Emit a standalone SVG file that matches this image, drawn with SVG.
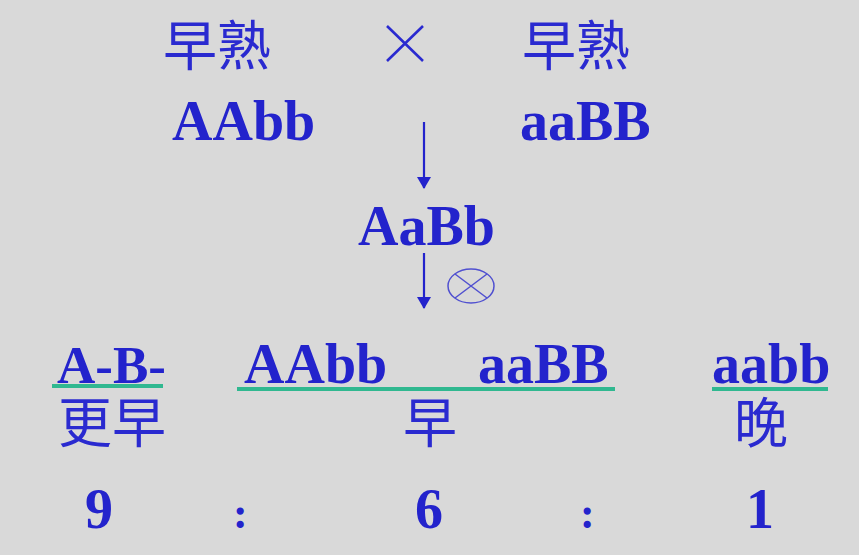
<svg xmlns="http://www.w3.org/2000/svg" width="859" height="555" viewBox="0 0 859 555">
<style>
.cn{font-family:"Liberation Serif","Noto Sans CJK SC",serif;font-size:54px;fill:#2a2ad0;}
.g{font-family:"Liberation Serif",serif;font-weight:bold;font-size:56px;fill:#2323cc;}
.col{font-family:"Liberation Serif",serif;font-weight:bold;font-size:44px;fill:#2323cc;}
.ul{stroke:#30b890;stroke-width:4;fill:none;}
.conn{stroke:#2323cc;stroke-width:2.2;fill:none;}
</style>
<defs>
<marker id="ah" markerWidth="12" markerHeight="14" refX="11" refY="7" orient="auto" markerUnits="userSpaceOnUse" viewBox="0 0 12 14">
<path d="M0,0 L12,7 L0,14 Z" fill="#2323cc"/>
</marker>
</defs>
<rect width="859" height="555" fill="#d9d9d9"/>
<g id="p1">
<text class="cn" x="163" y="66">早熟</text>
<text class="g" x="172" y="140">AAbb</text>
</g>
<g id="cross">
<path d="M387,26 L423,61 M423,26 L387,61" stroke="#2a2ad0" stroke-width="2.6"/>
</g>
<g id="p2">
<text class="cn" x="522" y="66">早熟</text>
<text class="g" x="520" y="140">aaBB</text>
</g>
<g id="f1">
<text class="g" x="358" y="245">AaBb</text>
</g>
<g id="selfing">
<ellipse cx="471" cy="286" rx="23" ry="17" fill="none" stroke="#5050d0" stroke-width="1.5"/>
<path d="M455,274 L487,298 M487,274 L455,298" stroke="#5050d0" stroke-width="1.5"/>
</g>
<g id="connectors">
<line class="conn" x1="424" y1="122" x2="424" y2="188" marker-end="url(#ah)"/>
<line class="conn" x1="424" y1="253" x2="424" y2="308" marker-end="url(#ah)"/>
</g>
<g id="c1">
<text class="g" x="57" y="383" style="font-size:53px">A-B-</text>
<path class="ul" d="M52,386 L163,386"/>
<text class="cn" x="58" y="443">更早</text>
<text class="g" x="85" y="528">9</text>
</g>
<g id="c2">
<text class="g" x="244" y="383">AAbb</text>
<text class="g" x="478" y="383">aaBB</text>
<path class="ul" d="M237,389 L615,389"/>
<text class="cn" x="403" y="443">早</text>
<text class="g" x="415" y="528">6</text>
</g>
<g id="c3">
<text class="g" x="712" y="383">aabb</text>
<path class="ul" d="M712,389 L828,389"/>
<text class="cn" x="734" y="443">晚</text>
<text class="g" x="746" y="528">1</text>
</g>
<g id="ratios">
<text class="col" x="233" y="528">:</text>
<text class="col" x="580" y="528">:</text>
</g>
</svg>
